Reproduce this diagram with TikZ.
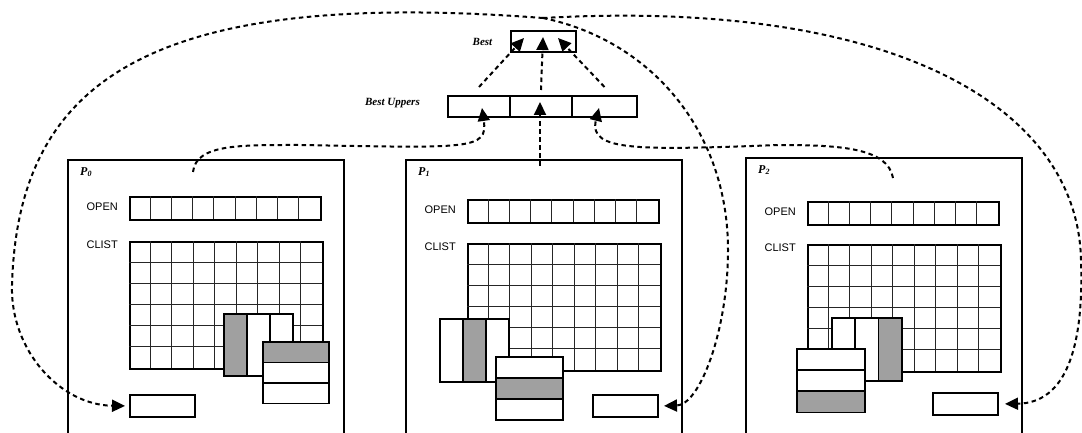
\documentclass[tikz,border=0pt]{standalone}
\usepackage{fontspec}
\setmainfont{Liberation Serif}
\setsansfont{Liberation Sans}
\usetikzlibrary{positioning}
\usetikzlibrary{arrows.meta}

\definecolor{cellgray}{HTML}{A0A0A0}

\begin{document}
\begin{tikzpicture}[x=1pt, y=-1pt,
		proc/.style={rectangle, draw, line width=2.2pt, anchor=north west,
				minimum width=276pt, minimum height=300pt, inner sep=0pt},
		bar/.style={rectangle, draw, line width=2pt, anchor=north west, inner sep=0pt},
		slot/.style={rectangle, draw, line width=1.8pt, anchor=north west, inner sep=0pt},
		cellline/.style={line width=1pt, black!85},
		boxlabel/.style={font=\sffamily\fontsize{11}{13}\selectfont, inner sep=0pt},
		plabel/.style={font=\bfseries\itshape\fontsize{11}{13}\selectfont, inner sep=0pt},
		link/.style={line width=2pt, dash pattern=on 4.5pt off 3.5pt,
				-{Triangle[length=13pt, width=12pt]}}
	]

	\useasboundingbox (0,0) rectangle (1082,433);
	\clip (0,0) rectangle (1082,433);
	\fill[white] (0,0) rectangle (1082,433);

	% processors with OPEN and CLIST
	\foreach \i/\px/\py/\oy/\gy/\rx in {0/67/159/196/241/62, 1/405/159/199/243/187, 2/745/157/201/244/187} {
		\node[proc] (p\i) at (\px,\py) {};
		\node[plabel, font=\bfseries\itshape\fontsize{12}{14}\selectfont, anchor=north west] (plbl\i) at (\px+13,\py+8) {P\textsubscript{\i}};

		\node[bar, minimum width=191pt, minimum height=23pt] (open\i) at (\px+62,\oy) {};
		\foreach \k in {1,...,8}
			\draw[cellline] (\px+62+\k*21.22,\oy) -- ++(0,23);
		\node[boxlabel, left=11pt of open\i, yshift=2pt] (openlbl\i) {OPEN};

		\node[bar, minimum width=193pt, minimum height=127pt] (clist\i) at (\px+62,\gy) {};
		\foreach \k in {1,...,8}
			\draw[cellline] (\px+62+\k*21.44,\gy) -- ++(0,127);
		\foreach \k in {1,...,5}
			\draw[cellline] (\px+62,\gy+\k*21.17) -- ++(193,0);
		\node[boxlabel, anchor=north east] (clistlbl\i) at ([xshift=-11pt]clist\i.north west) {CLIST};

		\node[bar, minimum width=65pt, minimum height=22pt] (res\i) at (\px+\rx,\py+235) {};
	}

	% slots on top of CLIST
	\foreach \k/\c in {0/cellgray, 1/white, 2/white}
		\node[slot, fill=\c, minimum width=23pt, minimum height=62pt] (col0\k) at (223+23*\k,313) {};
	\foreach \k/\c in {0/cellgray, 1/white, 2/white}
		\node[slot, fill=\c, minimum width=66pt, minimum height=20.5pt] (row0\k) at (262,341+20.5*\k) {};

	\foreach \k/\c in {0/white, 1/cellgray, 2/white}
		\node[slot, fill=\c, minimum width=23pt, minimum height=63pt] (col1\k) at (439+23*\k,318) {};
	\foreach \k/\c in {0/white, 1/cellgray, 2/white}
		\node[slot, fill=\c, minimum width=67pt, minimum height=21pt] (row1\k) at (495,356+21*\k) {};

	\foreach \k/\c in {0/white, 1/white, 2/cellgray}
		\node[slot, fill=\c, minimum width=23.3pt, minimum height=63pt] (col2\k) at (831+23.3*\k,317) {};
	\foreach \k/\c in {0/white, 1/white, 2/cellgray}
		\node[slot, fill=\c, minimum width=68pt, minimum height=21.2pt] (row2\k) at (796,348+21.2*\k) {};

	% Best and Best Uppers
	\node[bar, anchor=center, minimum width=65pt, minimum height=21pt] (best) at (543,41.5) {};
	\node[plabel, left=17pt of best] (bestlbl) {Best};

	\node[bar, minimum width=62pt, minimum height=21pt] (bu1) at (447,95) {};
	\node[bar, minimum width=62pt, minimum height=21pt] (bu2) at (509,95) {};
	\node[bar, minimum width=65pt, minimum height=21pt] (bu3) at (571,95) {};
	\node[plabel, left=27pt of bu1, yshift=3pt] (bulbl) {Best Uppers};

	\coordinate (a1) at ([yshift=8pt]bu1.north);
	\coordinate (a2) at ([yshift=5pt]bu2.north);
	\coordinate (a3) at ([yshift=8pt]bu3.north);
	\coordinate (b1) at ([xshift=-19pt, yshift=3.5pt]best.center);
	\coordinate (b2) at ([yshift=4.5pt]best.center);
	\coordinate (b3) at ([xshift=15pt, yshift=3.5pt]best.center);
	\draw[link] (a1) -- (b1);
	\draw[link] (a2) -- (b2);
	\draw[link] (a3) -- (b3);

	% processors up to Best Uppers
	\coordinate (s0) at (193,172);
	\coordinate (w0) at (300,145);
	\coordinate (t1) at (482,108);
	\coordinate (s1) at (540,166);
	\coordinate (t2) at (540,102);
	\coordinate (s2) at (893,178);
	\coordinate (w2) at (780,145);
	\coordinate (t3) at (599,108);
	\draw[link] (s0) .. controls (196,144) and (240,145) .. (w0) .. controls (470,148) and (488,150) .. (t1);
	\draw[link] (s1) -- (t2);
	\draw[link] (s2) .. controls (888,148) and (840,145) .. (w2) .. controls (640,150) and (588,152) .. (t3);

	% Best back down to each processor
	\coordinate (bo) at ([yshift=12pt]best.north);
	\draw[link, shorten >=4pt] (bo) .. controls (150,-12) and (18,80) .. (12,285)
		.. controls (10,350) and (60,405) .. (res0.west);
	\draw[link, shorten >=5pt] (bo) .. controls (650,40) and (728,130) .. (728,250)
		.. controls (728,330) and (700,405) .. (res1.east);
	\draw[link, shorten >=6pt] (bo) .. controls (900,-2) and (1078,110) .. (1081,260)
		.. controls (1084,350) and (1065,403) .. (res2.east);

\end{tikzpicture}
\end{document}
